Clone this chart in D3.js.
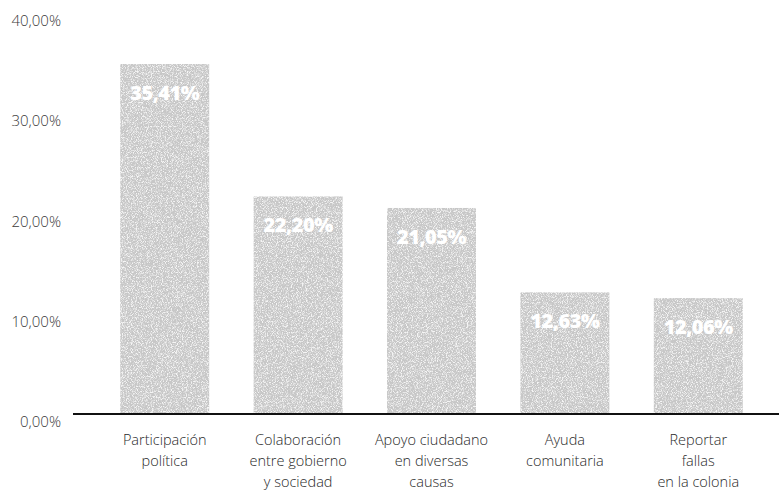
<!DOCTYPE html>
<html><head><meta charset="utf-8">
<script src="https://cdn.jsdelivr.net/npm/d3@7/dist/d3.min.js"></script>
<style>
html,body{margin:0;padding:0;background:#fff;}
svg{display:block;}
</style></head>
<body>
<svg id="chart" width="779" height="490"></svg>
<script>
const categories = [
  ["Participación", "política"],
  ["Colaboración", "entre gobierno", "y sociedad"],
  ["Apoyo ciudadano", "en diversas", "causas"],
  ["Ayuda", "comunitaria"],
  ["Reportar", "fallas", "en la colonia"]
];
const values = [35.41, 22.20, 21.05, 12.63, 12.06];
const valueLabels = ["35,41%", "22,20%", "21,05%", "12,63%", "12,06%"];
const yTicks = [0, 10, 20, 30, 40];
const yTickLabels = ["0,00%", "10,00%", "20,00%", "30,00%", "40,00%"];

const svg = d3.select("#chart");
const font = "'Open Sans', 'Noto Sans', sans-serif";

const defs = svg.append("defs");
const f = defs.append("filter").attr("id", "grain").attr("x", 0).attr("y", 0).attr("width", 1).attr("height", 1)
  .attr("color-interpolation-filters", "sRGB");
f.append("feTurbulence").attr("type", "fractalNoise").attr("baseFrequency", 1.2).attr("numOctaves", 1).attr("seed", 3).attr("result", "noise");
f.append("feColorMatrix").attr("in", "noise").attr("type", "matrix")
  .attr("values", "0 0 0 0 0.78  0 0 0 0 0.78  0 0 0 0 0.78  0 0 0 0 1").attr("result", "base");
f.append("feColorMatrix").attr("in", "noise").attr("type", "matrix")
  .attr("values", "0 0 0 0 0.96  0 0 0 0 0.96  0 0 0 0 0.96  4 0 0 0 -1.8").attr("result", "spk");
f.append("feComposite").attr("in", "spk").attr("in2", "base").attr("operator", "over").attr("result", "tex");
f.append("feComposite").attr("in", "tex").attr("in2", "SourceGraphic").attr("operator", "in");

const x = d3.scaleBand().domain(d3.range(values.length)).range([98, 765])
  .paddingInner(0.333).paddingOuter(0.1667);
const y = d3.scaleLinear().domain([0, 40]).range([419, 18]);
const baseY = y(0) - 5;

// y axis labels
svg.append("g").selectAll("text").data(yTicks).join("text")
  .attr("x", 61).attr("y", d => y(d) + 8)
  .attr("text-anchor", "end")
  .attr("font-family", font).attr("font-weight", 300).attr("font-size", 15)
  .attr("fill", "#3a3a3a")
  .text((d, i) => yTickLabels[i]);

// bars
svg.append("g").selectAll("rect").data(values).join("rect")
  .attr("x", (d, i) => x(i)).attr("width", x.bandwidth())
  .attr("y", d => y(d)).attr("height", d => baseY - y(d))
  .attr("fill", "#cccccc")
  .attr("filter", "url(#grain)");

// baseline
svg.append("line").attr("x1", 73).attr("x2", 779)
  .attr("y1", baseY).attr("y2", baseY)
  .attr("stroke", "#111").attr("stroke-width", 2);

// value labels
svg.append("g").selectAll("text").data(values).join("text")
  .attr("x", (d, i) => x(i) + x.bandwidth() / 2)
  .attr("y", d => y(d) + 36)
  .attr("text-anchor", "middle")
  .attr("font-family", font).attr("font-weight", 800).attr("font-size", 20)
  .attr("letter-spacing", -0.5)
  .attr("fill", "#ffffff")
  .text((d, i) => valueLabels[i]);

// category labels
const cat = svg.append("g").selectAll("text").data(categories).join("text")
  .attr("text-anchor", "middle")
  .attr("font-family", font).attr("font-weight", 300).attr("font-size", 14.5)
  .attr("fill", "#2a2a2a");
cat.each(function(lines, i) {
  d3.select(this).selectAll("tspan").data(lines).join("tspan")
    .attr("x", x(i) + x.bandwidth() / 2)
    .attr("y", (l, j) => 445 + j * 21)
    .text(l => l);
});
</script>
</body></html>
